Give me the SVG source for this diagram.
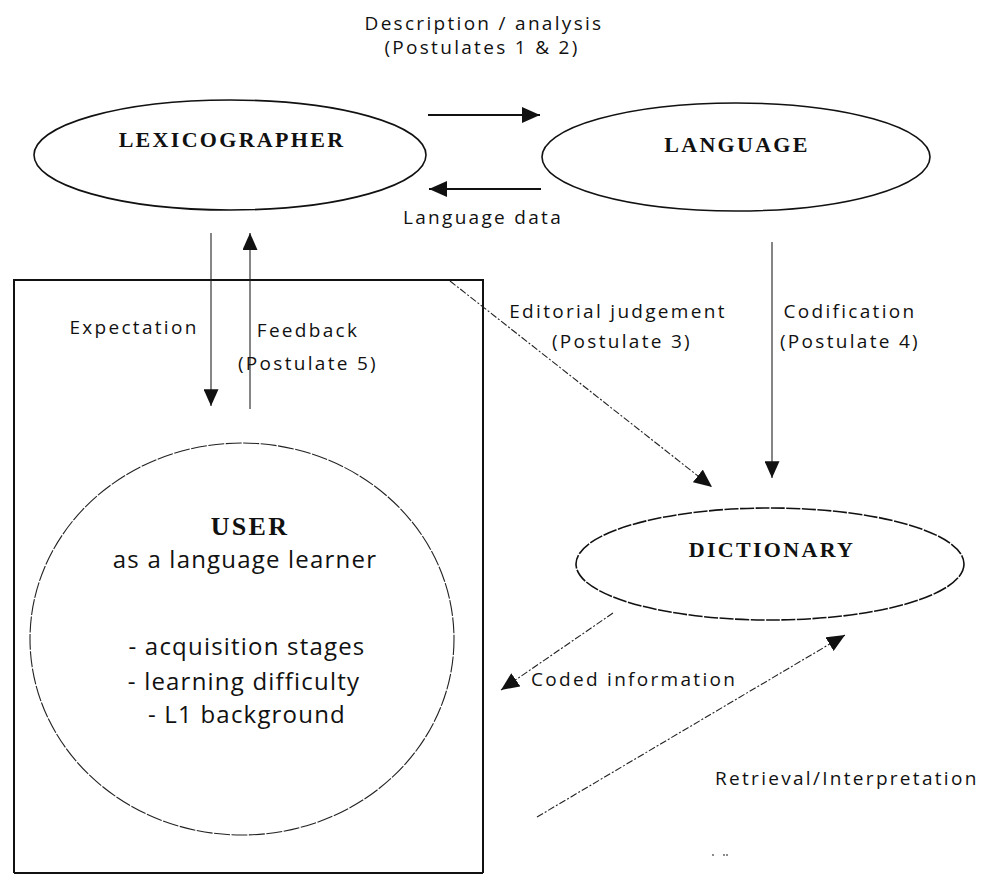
<svg xmlns="http://www.w3.org/2000/svg" width="984" height="876" viewBox="0 0 984 876">
  <defs>
    <marker id="head" viewBox="0 0 18 16" refX="18" refY="8" markerWidth="18" markerHeight="16" markerUnits="userSpaceOnUse" orient="auto">
      <path d="M0,0 L18,8 L0,16 z" fill="#111"/>
    </marker>
    <marker id="headS" viewBox="0 0 18 16" refX="18" refY="8" markerWidth="18" markerHeight="15" markerUnits="userSpaceOnUse" orient="auto">
      <path d="M0,0 L18,8 L0,16 z" fill="#111"/>
    </marker>
  </defs>
  <style>
    .node { fill: none; stroke: #111; stroke-width: 1.6; }
    .thin { fill: none; stroke: #222; stroke-width: 1.1; }
    .dash { fill: none; stroke: #222; stroke-width: 1.1; stroke-dasharray: 7 2 2 2; }
    .bold { fill: none; stroke: #111; stroke-width: 2.2; }
    .title { font-family: "Liberation Serif", "Times New Roman", serif; font-weight: bold; font-size: 22px; letter-spacing: 2.3px; fill: #111; text-anchor: middle; }
    .lbl { font-family: "Open Sans", "DejaVu Sans", sans-serif; font-size: 19px; letter-spacing: 2.3px; fill: #111; text-anchor: middle; }
    .lbl.start { text-anchor: start; }
    .lst { font-family: "Open Sans", "DejaVu Sans", sans-serif; font-size: 24px; letter-spacing: 1.2px; fill: #111; text-anchor: middle; }
  </style>
  <rect width="984" height="876" fill="#fff"/>

  <g id="lexicographer">
    <ellipse class="node" cx="230" cy="155" rx="196" ry="55"/>
    <text class="title" x="232" y="147">LEXICOGRAPHER</text>
  </g>

  <g id="language">
    <ellipse class="node" cx="736" cy="157" rx="194" ry="54"/>
    <text class="title" x="737" y="152">LANGUAGE</text>
  </g>

  <g id="dictionary">
    <ellipse class="node" cx="770" cy="564" rx="194" ry="56" stroke-dasharray="14 1.5"/>
    <text class="title" x="772" y="557">DICTIONARY</text>
  </g>

  <g id="user-context">
    <path d="M14,873 L14,280 L483,280 L483,873" fill="none" stroke="#111" stroke-width="2"/>
    <line x1="14" y1="873" x2="483" y2="873" stroke="#111" stroke-width="2"/>
  </g>

  <g id="user">
    <ellipse class="thin" cx="242" cy="639" rx="212" ry="196" stroke-dasharray="16 1.5"/>
    <text class="title" x="250" y="535" style="font-size:26px">USER</text>
    <text class="lst" x="245" y="568">as a language learner</text>
    <text class="lst" x="247" y="655">- acquisition stages</text>
    <text class="lst" x="244" y="690">- learning difficulty</text>
    <text class="lst" x="247" y="723">- L1 background</text>
  </g>

  <g id="connectors">
    <line class="bold" x1="428" y1="115" x2="540" y2="115" marker-end="url(#head)"/>
    <line class="bold" x1="541" y1="189" x2="429" y2="189" marker-end="url(#head)"/>
    <line class="thin" x1="211" y1="233" x2="211" y2="406" marker-end="url(#headS)"/>
    <line class="thin" x1="250" y1="409" x2="250" y2="233" marker-end="url(#headS)"/>
    <line class="thin" x1="772" y1="242" x2="772" y2="478" marker-end="url(#headS)"/>
    <line class="dash" x1="450" y1="281" x2="712" y2="487" marker-end="url(#head)"/>
    <line class="dash" x1="613" y1="613" x2="501" y2="690" marker-end="url(#head)"/>
    <line class="dash" x1="537" y1="817" x2="845" y2="635" marker-end="url(#head)"/>
  </g>

  <g id="labels">
    <text class="lbl" x="484" y="30">Description / analysis</text>
    <text class="lbl" x="482" y="54">(Postulates 1 &amp; 2)</text>
    <text class="lbl" x="483" y="224">Language data</text>
    <text class="lbl" x="134" y="334">Expectation</text>
    <text class="lbl" x="308" y="337">Feedback</text>
    <text class="lbl" x="308" y="370">(Postulate 5)</text>
    <text class="lbl" x="618" y="318">Editorial judgement</text>
    <text class="lbl" x="622" y="348">(Postulate 3)</text>
    <text class="lbl" x="850" y="318">Codification</text>
    <text class="lbl" x="850" y="348">(Postulate 4)</text>
    <text class="lbl start" x="531" y="686">Coded information</text>
    <text class="lbl start" x="715" y="785">Retrieval/Interpretation</text>
  </g>

  <g id="specks" fill="#555">
    <circle cx="713" cy="855" r="0.9"/>
    <circle cx="724" cy="855" r="0.9"/>
    <circle cx="727" cy="855" r="0.9"/>
  </g>
</svg>
